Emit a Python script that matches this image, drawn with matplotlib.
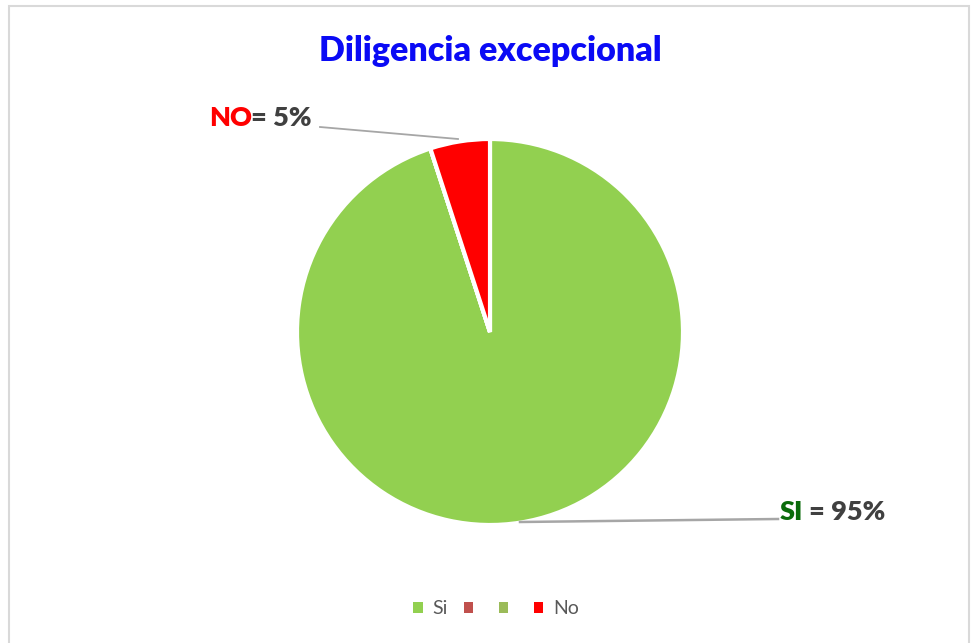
import matplotlib.pyplot as plt
from matplotlib.patches import Rectangle, Patch

# data
labels = ["Si", "", "", "No"]
values = [95, 0, 0, 5]
colors = ["#92D050", "#C0504D", "#9BBB59", "#FF0000"]

plt.rcParams['font.family'] = ['Lato', 'DejaVu Sans']

fig = plt.figure(figsize=(9.71, 6.43), dpi=100)
W, H = 971, 643

# chart border
fig.patches.append(Rectangle((9 / W, -0.01), 960 / W, 1 - 6 / H + 0.01,
                             transform=fig.transFigure, fill=False,
                             edgecolor="#D9D9D9", linewidth=1.5))

# pie axes: centre (490, 332), radius 193 px
r = 193
ax = fig.add_axes([(490 - r) / W, 1 - (332 + r) / H, 2 * r / W, 2 * r / H])
wedges, _ = ax.pie(values, colors=colors, startangle=90, counterclock=False,
                   radius=1.0, wedgeprops=dict(edgecolor="white", linewidth=3))
ax.set_xlim(-1, 1)
ax.set_ylim(-1, 1)
ax.set_aspect("equal")
ax.axis("off")


def px(x, y):
    return (x / W, 1 - y / H)


# title
fig.text(*px(490, 51), "Diligencia excepcional", ha="center", va="center",
         fontsize=24.5, fontweight="heavy", color="#0A0AF5")

# leader lines
fig.add_artist(plt.Line2D([320 / W, 458 / W], [1 - 127 / H, 1 - 139 / H],
                          color="#A6A6A6", linewidth=1.3))
fig.add_artist(plt.Line2D([520 / W, 778 / W], [1 - 522 / H, 1 - 519 / H],
                          color="#A6A6A6", linewidth=1.8))

# data labels
fig.text(*px(209, 118), "NO", ha="left", va="center", fontsize=19.5,
         fontweight="heavy", color="#FF0000")
fig.text(*px(251, 118), "= 5%", ha="left", va="center", fontsize=19.5,
         fontweight="heavy", color="#404040")
fig.text(*px(780, 512), "SI", ha="left", va="center", fontsize=19.5,
         fontweight="heavy", color="#0B6B0B")
fig.text(*px(809, 512), "= 95%", ha="left", va="center", fontsize=19.5,
         fontweight="heavy", color="#404040")

# legend
handles = [Patch(facecolor=c, edgecolor="none") for c in colors]
fig.legend(handles, labels, loc="center", bbox_to_anchor=px(496, 609), ncol=4,
           frameon=False, fontsize=14, handlelength=0.5, handleheight=0.5,
           handletextpad=0.5, columnspacing=0.8, labelcolor="#595959")

fig.savefig("out.png", dpi=100, facecolor="white")
